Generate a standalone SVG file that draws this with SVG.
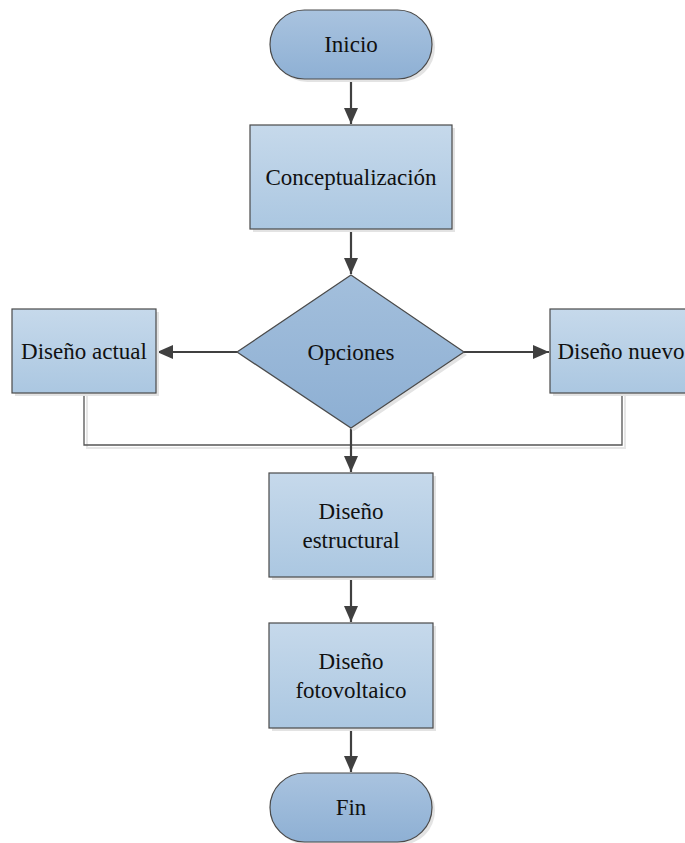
<svg xmlns="http://www.w3.org/2000/svg" width="685" height="843" viewBox="0 0 685 843">
<defs>
<linearGradient id="gRect" x1="0" y1="0" x2="0" y2="1">
<stop offset="0" stop-color="#c6d9eb"/>
<stop offset="1" stop-color="#abc7e1"/>
</linearGradient>
<linearGradient id="gTerm" x1="0" y1="0" x2="0" y2="1">
<stop offset="0" stop-color="#a9c3df"/>
<stop offset="1" stop-color="#8eb0d4"/>
</linearGradient>
<linearGradient id="gDia" x1="0" y1="0" x2="0" y2="1">
<stop offset="0" stop-color="#a3bfdc"/>
<stop offset="1" stop-color="#8dafd3"/>
</linearGradient>
<marker id="arr" markerWidth="16" markerHeight="14" refX="16" refY="7" orient="auto" markerUnits="userSpaceOnUse">
<path d="M0,0 L16,7 L0,14 Z" fill="#404040"/>
</marker>
</defs>
<style>
.shape{stroke:#4a4a4a;stroke-width:1.2}
.shadow{fill:#e3e3e3}
.lbl{font-size:23px;fill:#111;text-anchor:middle;dominant-baseline:central}
.conn{stroke:#404040;stroke-width:2.2;fill:none}
.thin{stroke:#555;stroke-width:1.3;fill:none}
.thinsh{stroke:#e6e6e6;stroke-width:2;fill:none}
</style>
<rect width="685" height="843" fill="#ffffff"/>
<g id="connectors">
<path class="thinsh" d="M87,394 V448 H625 V394"/>
<path class="thin" d="M84,393 V445 H622 V393"/>
<line class="conn" x1="351" y1="79" x2="351" y2="124" marker-end="url(#arr)"/>
<line class="conn" x1="351" y1="229" x2="351" y2="274" marker-end="url(#arr)"/>
<line class="conn" x1="237" y1="352" x2="157" y2="352" marker-end="url(#arr)"/>
<line class="conn" x1="464" y1="352" x2="549" y2="352" marker-end="url(#arr)"/>
<line class="conn" x1="351" y1="428" x2="351" y2="472" marker-end="url(#arr)"/>
<line class="conn" x1="351" y1="577" x2="351" y2="622" marker-end="url(#arr)"/>
<line class="conn" x1="351" y1="728" x2="351" y2="772" marker-end="url(#arr)"/>
</g>
<g font-family="'Liberation Serif', 'Times New Roman', serif">
<g id="inicio">
<rect class="shadow" x="273" y="13" width="162" height="69" rx="34.5"/>
<rect class="shape" x="270" y="10" width="162" height="69" rx="34.5" fill="url(#gTerm)"/>
<text class="lbl" x="351" y="44">Inicio</text>
</g>
<g id="conceptualizacion">
<rect class="shadow" x="253" y="128" width="202" height="104"/>
<rect class="shape" x="250" y="125" width="202" height="104" fill="url(#gRect)"/>
<text class="lbl" x="351" y="177">Conceptualización</text>
</g>
<g id="opciones">
<polygon class="shadow" points="354,278 467,355 354,431 240,355"/>
<polygon class="shape" points="351,275 464,352 351,428 237,352" fill="url(#gDia)"/>
<text class="lbl" x="351" y="352">Opciones</text>
</g>
<g id="diseno-actual">
<rect class="shadow" x="15" y="312" width="144" height="84"/>
<rect class="shape" x="12" y="309" width="144" height="84" fill="url(#gRect)"/>
<text class="lbl" x="84" y="351">Diseño actual</text>
</g>
<g id="diseno-nuevo">
<rect class="shadow" x="553" y="312" width="144" height="84"/>
<rect class="shape" x="550" y="309" width="144" height="84" fill="url(#gRect)"/>
<text class="lbl" x="621" y="351">Diseño nuevo</text>
</g>
<g id="diseno-estructural">
<rect class="shadow" x="272" y="476" width="164" height="104"/>
<rect class="shape" x="269" y="473" width="164" height="104" fill="url(#gRect)"/>
<text class="lbl" x="351" y="511">Diseño</text>
<text class="lbl" x="351" y="540">estructural</text>
</g>
<g id="diseno-fotovoltaico">
<rect class="shadow" x="272" y="626" width="164" height="105"/>
<rect class="shape" x="269" y="623" width="164" height="105" fill="url(#gRect)"/>
<text class="lbl" x="351" y="661">Diseño</text>
<text class="lbl" x="351" y="690">fotovoltaico</text>
</g>
<g id="fin">
<rect class="shadow" x="273" y="776" width="162" height="69" rx="34.5"/>
<rect class="shape" x="270" y="773" width="162" height="69" rx="34.5" fill="url(#gTerm)"/>
<text class="lbl" x="351" y="807">Fin</text>
</g>
</g>
</svg>
